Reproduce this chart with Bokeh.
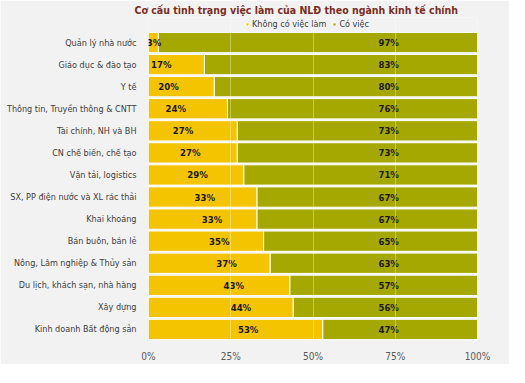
from bokeh.plotting import figure
from bokeh.models import ColumnDataSource, Legend, LegendItem, FixedTicker, Range1d
from bokeh.core.properties import value
from bokeh.embed import file_html
from bokeh.resources import INLINE

categories = ["Quản lý nhà nước", "Giáo dục & đào tạo", "Y tế",
              "Thông tin, Truyền thông & CNTT", "Tài chính, NH và BH",
              "CN chế biến, chế tạo", "Vận tải, logistics",
              "SX, PP điện nước và XL rác thải", "Khai khoáng",
              "Bán buôn, bán lẻ", "Nông, Lâm nghiệp & Thủy sản",
              "Du lịch, khách sạn, nhà hàng", "Xây dựng",
              "Kinh doanh Bất động sản"]
unemployed = [3, 17, 20, 24, 27, 27, 29, 33, 33, 35, 37, 43, 44, 53]
employed = [97, 83, 80, 76, 73, 73, 71, 67, 67, 65, 63, 57, 56, 47]
series_names = ["Không có việc làm", "Có việc"]
tick_values = [0, 25, 50, 75, 100]
tick_labels = ["0%", "25%", "50%", "75%", "100%"]
title_text = "Cơ cấu tình trạng việc làm của NLĐ theo ngành kinh tế chính"

FONT = "'DejaVu Sans Condensed', 'Roboto Condensed', 'Liberation Sans Narrow', Roboto"
BG = "#f2f2f2"
YELLOW = "#f5c400"
OLIVE = "#a5a800"

BL, BR, BB = 148, 32, 24
FRAME_W = 329
FRAME_H = 323
BAR_AREA = 309                     # pixel height taken by the 14 bars
n = len(categories)
row_px = BAR_AREA / n
extra_rows = (FRAME_H - BAR_AREA) / row_px   # room above bars for the legend

ypos = list(range(n))
# label positions: staggered placement like in the source chart
lab_u = [1.7 + 2.2 * i for i in range(n)]
lab_e = [73] * n

src = ColumnDataSource(dict(
    y=ypos, cat=categories, u=unemployed, e=employed,
    u_txt=[f"{v}%" for v in unemployed], e_txt=[f"{v}%" for v in employed],
    lu=lab_u, le=lab_e,
))

p = figure(frame_width=FRAME_W, frame_height=FRAME_H, x_range=(0, 100),
           y_range=Range1d(n - 0.5, -0.5 - extra_rows),
           output_backend="svg", toolbar_location=None,
           background_fill_color=BG, border_fill_color=BG,
           min_border_left=BL, min_border_right=BR, min_border_bottom=BB,
           min_border_top=0, outline_line_color=None, title=title_text)

p.title.align = "left"
p.title.offset = -14
p.title.standoff = 3
p.title.text_font = FONT
p.title.text_font_size = "10.5px"
p.title.text_font_style = "bold"
p.title.text_color = "#7a2e1e"

r = p.hbar_stack(["u", "e"], y="y", height=0.92, color=[YELLOW, OLIVE],
                 line_color="white", line_width=1, source=src)

p.text(x="lu", y="y", text="u_txt", source=src, text_align="center",
       text_baseline="middle", text_font=value(FONT), text_font_style="bold",
       text_font_size="9.5px", text_color="#1a1a1a")
p.text(x="le", y="y", text="e_txt", source=src, text_align="center",
       text_baseline="middle", text_font=value(FONT), text_font_style="bold",
       text_font_size="9.5px", text_color="#1a1a1a")

legend = Legend(items=[LegendItem(label=series_names[0], renderers=[r[0]]),
                       LegendItem(label=series_names[1], renderers=[r[1]])],
                orientation="horizontal", location=(97, FRAME_H - 13),
                background_fill_alpha=0, border_line_color=None,
                label_text_font=FONT, label_text_font_size="9px",
                label_text_color="#404040", glyph_width=4, glyph_height=4,
                spacing=6, padding=0, margin=0, label_standoff=3,
                label_height=12)
p.add_layout(legend)

p.xaxis.ticker = FixedTicker(ticks=tick_values)
p.xaxis.major_label_overrides = {v: l for v, l in zip(tick_values, tick_labels)}
p.xaxis.axis_line_color = None
p.xaxis.major_tick_line_color = None
p.xaxis.minor_tick_line_color = None
p.xaxis.major_label_text_font = FONT
p.xaxis.major_label_text_font_size = "10px"
p.xaxis.major_label_text_color = "#595959"
p.xaxis.major_label_standoff = 4

p.yaxis.ticker = FixedTicker(ticks=ypos)
p.yaxis.major_label_overrides = {i: c for i, c in zip(ypos, categories)}
p.yaxis.axis_line_color = None
p.yaxis.major_tick_line_color = None
p.yaxis.minor_tick_line_color = None
p.yaxis.major_label_text_font = FONT
p.yaxis.major_label_text_font_size = "9px"
p.yaxis.major_label_text_color = "#404040"
p.yaxis.major_label_standoff = 6

p.ygrid.grid_line_color = None
p.xgrid.ticker = FixedTicker(ticks=[25, 50, 75])
p.xgrid.grid_line_color = "white"
p.xgrid.grid_line_alpha = 0.35
p.xgrid.level = "overlay"

open("out.html", "w").write(file_html(p, INLINE))
